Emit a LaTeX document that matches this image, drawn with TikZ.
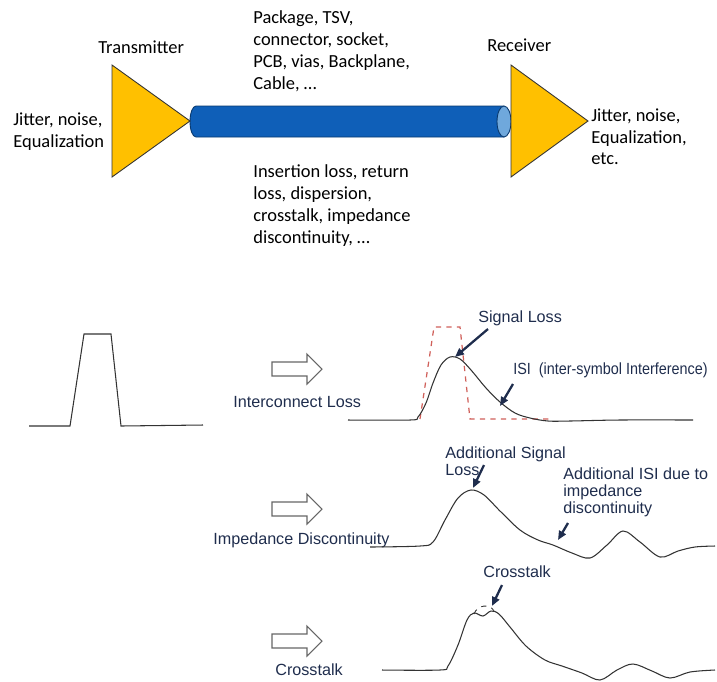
\documentclass[tikz,border=0pt]{standalone}
\usepackage{fontspec}
\setmainfont{Carlito}
\newfontfamily\arialfont{Liberation Sans}
\newfontfamily\arialnarrow[FakeStretch=0.89]{Liberation Sans}
\usepackage{xcolor}
\definecolor{ampyellow}{HTML}{FFC000}
\definecolor{cableblue}{HTML}{0F5FB8}
\definecolor{cableend}{HTML}{6FA8DC}
\definecolor{navytext}{HTML}{1F2D4D}
\definecolor{lossred}{HTML}{D0605A}
\usetikzlibrary{arrows.meta}

\begin{document}
\begin{tikzpicture}[x=0.02cm,y=-0.02cm,
  toptxt/.style={inner sep=0pt,font=\fontsize{10.5}{12.5}\selectfont,align=left},
  bottxt/.style={inner sep=0pt,font=\arialfont\fontsize{9.2}{9.5}\selectfont,text=navytext,align=left},
  amp/.style={draw=black!80,fill=ampyellow,line width=0.5pt},
  wave/.style={draw=black!80,line width=0.6pt},
  ptr/.style={-{Triangle[length=1.8mm,width=1.5mm]},line width=1.3pt,navytext},
  fatarrow/.pic={\draw[black!60,line width=0.6pt,fill=white] (0,-7) -- (35,-7) -- (35,-15) -- (50,0)
    -- (35,15) -- (35,7) -- (0,7) -- cycle;}]
  \useasboundingbox (0,0) rectangle (717,681);

  % link: cable, then the two amplifiers
  \draw[fill=cableblue,draw=cableblue!60!black,line width=0.5pt] (504,106) -- (196,106)
    arc[start angle=270,end angle=90,x radius=6,y radius=15.5] -- (504,137) -- cycle;
  \draw[fill=cableend,draw=cableblue!60!black,line width=0.5pt] (504,121.5) ellipse[x radius=7,y radius=15.5];
  \draw[amp] (112,65) -- (190,121) -- (112,177) -- cycle;
  \draw[amp] (511,65) -- (588,121) -- (511,177) -- cycle;

  \node[toptxt,anchor=base west] (tx) at (98,53) {Transmitter};
  \node[toptxt,anchor=base west] (rx) at (487,51) {Receiver};
  \node[toptxt,anchor=north west] (txnote) at (13,112) {Jitter, noise,\\Equalization};
  \node[toptxt,anchor=north west] (rxnote) at (591,108) {Jitter, noise,\\Equalization,\\etc.};
  \node[toptxt,anchor=north west] (parts) at (253,10)
    {Package, TSV,\\connector, socket,\\PCB, vias, Backplane,\\Cable, \dots};
  \node[toptxt,anchor=north west] (impair) at (253,164)
    {Insertion loss, return\\loss, dispersion,\\crosstalk, impedance\\discontinuity, \dots};

  % ideal pulse
  \draw[wave] (29,426) -- (70,426) -- (84,334) -- (111,334) -- (121,426) -- (203,425);

  % interconnect loss
  \pic at (272,369) {fatarrow};
  \node[bottxt,anchor=base west] (iloss) at (233,407) {Interconnect Loss};
  \draw[lossred,dashed,line width=0.7pt] (420,419) -- (434,327) -- (460,327) -- (470,419) -- (552,419);
  \draw[wave] plot[smooth,tension=0.55] coordinates {(348,420) (410,420) (418,417) (426,403) (433,383)
    (441,365) (450,357) (460,359) (471,370) (486,388) (500,402) (515,413) (530,418) (548,421)
    (570,421) (620,420) (693,420)};
  \node[bottxt,anchor=base west] (sigloss) at (478,322) {Signal Loss};
  \node[bottxt,anchor=base west,font=\arialnarrow\fontsize{9.2}{9.5}\selectfont] (isi) at (513,374)
    {ISI\ \ (inter-symbol Interference)};
  \coordinate (sigtail) at (488,329);
  \coordinate (sighead) at (455,357);
  \coordinate (isitail) at (513,384);
  \coordinate (isihead) at (500,406);
  \draw[ptr] (sigtail) -- (sighead);
  \draw[ptr] (isitail) -- (isihead);

  % impedance discontinuity
  \pic at (272,509) {fatarrow};
  \node[bottxt,anchor=base west] (zdisc) at (213,544) {Impedance Discontinuity};
  \draw[wave] plot[smooth,tension=0.55] coordinates {(370,547) (420,546) (433,542) (445,520) (458,498)
    (471,490) (484,495) (500,511) (520,530) (538,540) (553,545) (572,553) (590,558) (607,545)
    (623,531) (640,542) (660,557) (678,551) (695,547) (715,546)};
  \node[bottxt,anchor=base west] (addloss) at (445,475) {Additional Signal\\Loss};
  \node[bottxt,anchor=base west] (addisi) at (563,513) {Additional ISI due to\\impedance\\discontinuity};
  \coordinate (addtail) at (484,465);
  \coordinate (addhead) at (473,488);
  \coordinate (zisitail) at (568,523);
  \coordinate (zisihead) at (558,540);
  \draw[ptr] (addtail) -- (addhead);
  \draw[ptr] (zisitail) -- (zisihead);

  % crosstalk
  \pic at (272,641) {fatarrow};
  \node[bottxt,anchor=base west] (xtalk) at (275,675) {Crosstalk};
  \draw[wave] plot[smooth,tension=0.55] coordinates {(382,670) (440,670) (448,666) (458,645) (467,620)
    (474,613) (483,616) (491,611) (499,614) (510,627) (526,646) (545,660) (562,666) (582,673)
    (600,680) (617,670) (633,664) (652,671) (670,678) (690,672) (715,670)};
  \draw[black!80,dashed,line width=0.5pt] (474,614) .. controls (477,605) and (490,603) .. (494,611);
  \node[bottxt,anchor=base west] (xnote) at (483,577) {Crosstalk};
  \coordinate (xtail) at (502,585);
  \coordinate (xhead) at (492,606);
  \draw[ptr] (xtail) -- (xhead);
\end{tikzpicture}
\end{document}
